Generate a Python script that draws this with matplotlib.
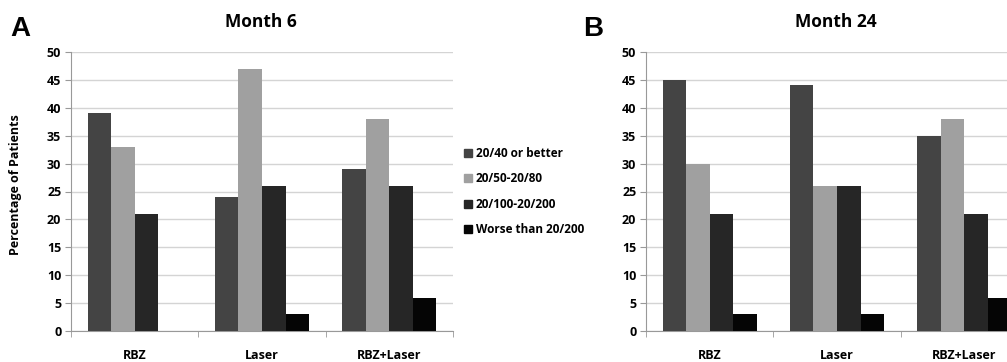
import matplotlib.pyplot as plt
from matplotlib.lines import Line2D
import numpy as np

plt.rcParams['font.family'] = ['Open Sans', 'DejaVu Sans']

groups = ['RBZ', 'Laser', 'RBZ+Laser']
series = ['20/40 or better', '20/50-20/80', '20/100-20/200', 'Worse than 20/200']
colors = ['#444444', '#a0a0a0', '#262626', '#050505']

# month 6 values per series (RBZ, Laser, RBZ+Laser)
m6_good = [39, 24, 29]
m6_mid = [33, 47, 38]
m6_low = [21, 26, 26]
m6_worse = [0, 3, 6]

# month 24
m24_good = [45, 44, 35]
m24_mid = [30, 26, 38]
m24_low = [21, 26, 21]
m24_worse = [3, 3, 6]

W, H = 1007, 362
fig = plt.figure(figsize=(W / 100, H / 100), dpi=100)


def panel(left_px, vals, title, letter, letter_x):
    # axes in pixel coords: bottom y=331, top y=52, width 3 categories * 127.5px
    ax = fig.add_axes([left_px / W, (H - 331) / H, 382 / W, 279 / H])
    x = np.arange(len(groups))
    bw = 0.185
    for i, v in enumerate(vals):
        ax.bar(x + (i - 1.5) * bw, v, bw, color=colors[i], zorder=3)
    ax.set_xlim(-0.5, 2.5)
    ax.set_ylim(0, 50)
    ax.set_yticks(range(0, 51, 5))
    ax.set_xticks(x)
    ax.set_xticklabels(groups, fontsize=9, fontweight='bold')
    ax.set_xticks([-0.5, 0.5, 1.5, 2.5], minor=True)
    ax.tick_params(axis='x', which='major', length=0, pad=13)
    ax.tick_params(axis='x', which='minor', length=4, color='#999999')
    ax.tick_params(axis='y', length=4, color='#999999', labelsize=9, pad=3)
    for lbl in ax.get_yticklabels():
        lbl.set_fontweight('bold')
    ax.grid(axis='y', color='#d4d4d4', linewidth=1, zorder=0)
    for s in ['top', 'right']:
        ax.spines[s].set_visible(False)
    ax.spines['left'].set_color('#999999')
    ax.spines['bottom'].set_color('#999999')
    fig.text((left_px + 190) / W, 1 - 22 / H, title, ha='center', va='center',
             fontsize=12.5, fontweight='bold')
    fig.text(letter_x / W, 1 - 29 / H, letter, ha='left', va='center',
             fontsize=20, fontweight='bold', family='Liberation Sans')
    return ax


axA = panel(71, [m6_good, m6_mid, m6_low, m6_worse], 'Month 6', 'A', 10)
axA.set_ylabel('Percentage of Patients', fontsize=9, fontweight='bold')
axA.yaxis.set_label_coords(-0.128, 0.525)
axB = panel(646, [m24_good, m24_mid, m24_low, m24_worse], 'Month 24', 'B', 583)

handles = [Line2D([], [], marker='s', linestyle='none', color=c, markersize=6)
           for c in colors]
leg = fig.legend(handles, series, loc='upper left',
                 bbox_to_anchor=(455 / W, 1 - 141 / H), frameon=False,
                 prop={'size': 8.5, 'weight': 'bold'}, handletextpad=0.05,
                 labelspacing=1.05, handlelength=1.2, borderpad=0)

fig.savefig('out.png', dpi=100)
